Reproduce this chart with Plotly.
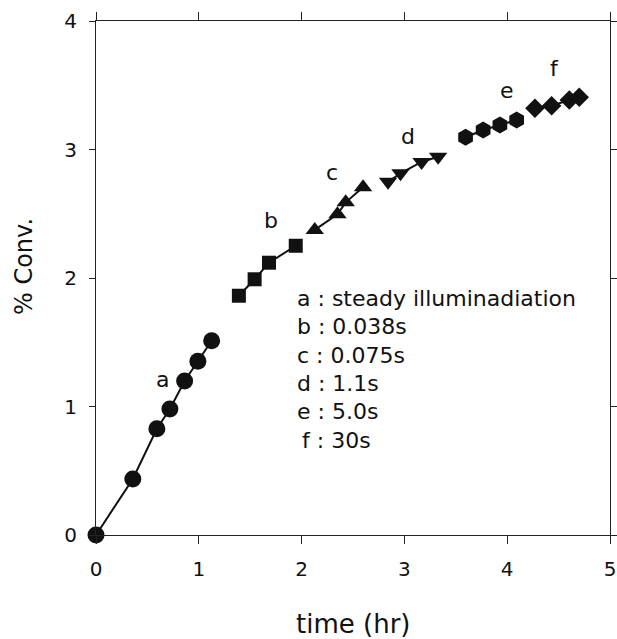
import plotly.graph_objects as go

# ---- data ----
a_time = [0.0, 0.358, 0.592, 0.719, 0.862, 0.991, 1.125]
a_conv = [0.0, 0.436, 0.827, 0.981, 1.198, 1.352, 1.512]

b_time = [1.390, 1.543, 1.683, 1.943]
b_conv = [1.862, 1.990, 2.119, 2.251]

c_time = [2.128, 2.349, 2.429, 2.598]
c_conv = [2.374, 2.496, 2.589, 2.706]

d_time = [2.841, 2.962, 3.167, 3.328]
d_conv = [2.749, 2.815, 2.903, 2.944]

e_time = [3.595, 3.766, 3.929, 4.092]
e_conv = [3.095, 3.152, 3.191, 3.230]

f_time = [4.270, 4.432, 4.604, 4.701]
f_conv = [3.321, 3.341, 3.385, 3.406]

series_letters = ["a", "b", "c", "d", "e", "f"]
legend_lines = ["a : steady illuminadiation", "b : 0.038s", "c : 0.075s",
                "d : 1.1s", "e : 5.0s", "f : 30s"]
x_ticks = [0, 1, 2, 3, 4, 5]
y_ticks = [0, 1, 2, 3, 4]

FONT = "DejaVu Sans"
W, H = 617, 639
L, R, T, B = 96, 7, 21, 104
PW, PH = W - L - R, H - T - B


def px_x(p):
    return (p - L) / PW


def px_y(p):
    return (H - B - p) / PH


fig = go.Figure()
series = [
    (a_time, a_conv, "circle", 17),
    (b_time, b_conv, "square", 14),
    (c_time, c_conv, "triangle-up", 16),
    (d_time, d_conv, "triangle-down", 16),
    (e_time, e_conv, "hexagon", 17),
    (f_time, f_conv, "diamond", 15),
]
for xs, ys, sym, size in series:
    fig.add_trace(go.Scatter(
        x=xs, y=ys, mode="lines+markers",
        line=dict(color="#111111", width=2),
        marker=dict(symbol=sym, size=size, color="#111111",
                    line=dict(width=0)),
        cliponaxis=False, showlegend=False,
    ))

annotations = []
# series letters
letter_pos = [(0.650, 1.214), (1.706, 2.451), (2.300, 2.819),
              (3.036, 3.100), (4.000, 3.463), (4.458, 3.632)]
for letter, (lx, ly) in zip(series_letters, letter_pos):
    annotations.append(dict(x=lx, y=ly, xref="x", yref="y", text=letter,
                            showarrow=False, xanchor="center", yanchor="middle",
                            font=dict(family=FONT, size=22, color="#111111")))

# legend text block
line_y = [298.3, 326.7, 355.0, 383.3, 411.7, 440.0]
for i, (txt, yy) in enumerate(zip(legend_lines, line_y)):
    xx = 295 if i < 5 else 300
    annotations.append(dict(x=px_x(xx), y=px_y(yy), xref="paper", yref="paper",
                            text=txt, showarrow=False, xanchor="left",
                            yanchor="middle",
                            font=dict(family=FONT, size=22, color="#111111")))

# axis titles
annotations.append(dict(x=0.5, y=px_y(624), xref="paper", yref="paper",
                        text="time (hr)", showarrow=False, xanchor="center",
                        yanchor="middle",
                        font=dict(family=FONT, size=26, color="#111111")))
annotations.append(dict(x=px_x(24), y=px_y(267), xref="paper", yref="paper",
                        text="% Conv.", showarrow=False, xanchor="center",
                        yanchor="middle", textangle=-90,
                        font=dict(family=FONT, size=24, color="#111111")))

axis_common = dict(showgrid=False, zeroline=False, showline=True,
                   linecolor="#222222", linewidth=1, mirror="ticks",
                   ticks="outside", tickcolor="#222222", tickwidth=1,
                   automargin=False,
                   tickfont=dict(family=FONT, size=20, color="#111111"))

fig.update_layout(
    width=W, height=H,
    margin=dict(l=L, r=R, t=T, b=B, pad=0, autoexpand=False),
    paper_bgcolor="white", plot_bgcolor="white",
    xaxis=dict(range=[0, 5], tickvals=x_ticks, ticklen=8,
               ticklabelstandoff=8, **axis_common),
    yaxis=dict(range=[0, 4], tickvals=y_ticks, ticklen=6,
               ticklabelstandoff=8, **axis_common),
    annotations=annotations,
    font=dict(family=FONT, color="#111111"),
)

fig.write_html(
    "out.html",
    config={"displayModeBar": False},
    post_script=("document.body.style.margin='0';"
                 "document.documentElement.style.overflow='hidden';"
                 "document.body.style.overflow='hidden';"),
)
